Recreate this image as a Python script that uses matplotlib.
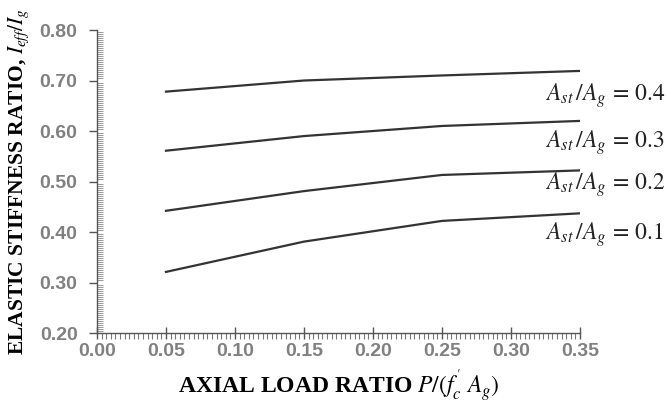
import matplotlib
matplotlib.use("Agg")
import matplotlib.pyplot as plt
from matplotlib.ticker import MultipleLocator

plt.rcParams['mathtext.fontset'] = 'stix'

# axial load ratio P/(f'c Ag)
load_ratio = [0.05, 0.15, 0.25, 0.35]

# Ieff/Ig for each steel ratio Ast/Ag
stiff_04 = [0.678, 0.700, 0.710, 0.719]
stiff_03 = [0.561, 0.590, 0.610, 0.620]
stiff_02 = [0.442, 0.481, 0.513, 0.522]
stiff_01 = [0.321, 0.381, 0.422, 0.437]

series = [stiff_04, stiff_03, stiff_02, stiff_01]
steel_labels = ['0.4', '0.3', '0.2', '0.1']
label_y = [0.671, 0.577, 0.493, 0.394]

fig = plt.figure(figsize=(6.66, 4.04), dpi=100)
ax = fig.add_axes([0.1456, 0.1757, 0.7252, 0.75])

for vals in series:
    ax.plot(load_ratio, vals, color='#333333', lw=1.6)

for lab, yy in zip(steel_labels, label_y):
    ax.text(0.3245, yy, r'$A_{st}\,/A_g\,=\,' + lab + '$', fontsize=17,
            ha='left', va='center', color='#222222', clip_on=False)

ax.set_xlim(0.0, 0.35)
ax.set_ylim(0.20, 0.80)
ax.xaxis.set_major_locator(MultipleLocator(0.05))
ax.xaxis.set_minor_locator(MultipleLocator(0.05 / 15))
ax.yaxis.set_major_locator(MultipleLocator(0.10))
ax.yaxis.set_minor_locator(MultipleLocator(0.1 / 25))
ax.xaxis.set_major_formatter(lambda v, p: f'{v:.2f}')
ax.yaxis.set_major_formatter(lambda v, p: f'{v:.2f}')

for side in ['top', 'right']:
    ax.spines[side].set_visible(False)
for side in ['left', 'bottom']:
    ax.spines[side].set_color('#555555')
    ax.spines[side].set_linewidth(1.0)

ax.tick_params(axis='x', which='major', direction='inout', length=8,
               width=1, color='#555555', pad=3)
ax.tick_params(axis='x', which='minor', direction='out', length=4,
               width=0.8, color='#777777')
ax.tick_params(axis='y', which='major', direction='out', length=6,
               width=1, color='#555555', pad=8)
ax.tick_params(axis='y', which='minor', direction='in', length=4,
               width=0.6, color='#888888')
for t in ax.get_xticklabels() + ax.get_yticklabels():
    t.set_fontfamily('Liberation Sans')
    t.set_fontweight('bold')
    t.set_fontsize(14)
    t.set_color('#808080')

ax.set_xlabel(r"AXIAL LOAD RATIO $\mathbf{\it{P}}/(f^{'}_{c}\ \it{A_g})$",
              family='Liberation Serif', fontweight='bold', fontsize=17,
              labelpad=5)
ax.set_ylabel(r'ELASTIC STIFFNESS RATIO, $I_{eff}/I_g$',
              family='Liberation Serif', fontweight='bold', fontsize=15.5,
              labelpad=6)

fig.savefig('out.png', dpi=100, facecolor='white')
